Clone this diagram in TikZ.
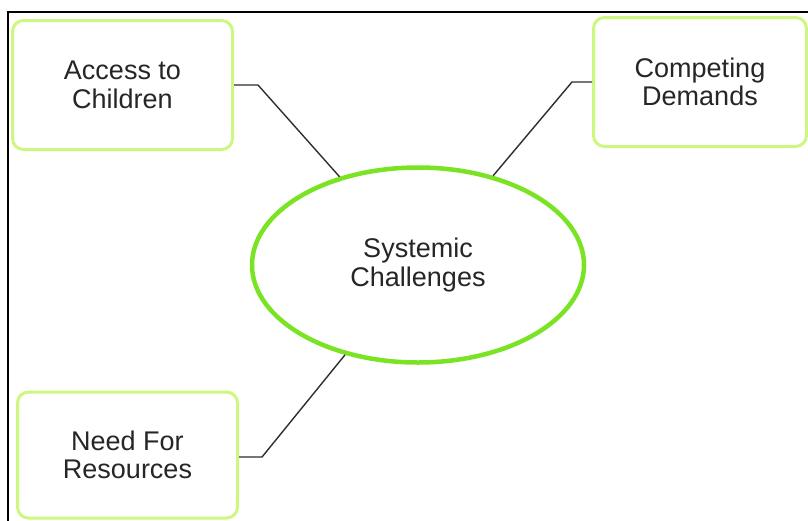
\documentclass[tikz,border=0pt]{standalone}
\usepackage{fontspec}
\setmainfont{Liberation Sans}
\usetikzlibrary{shapes.geometric}
\definecolor{boxgreen}{RGB}{204,248,128}
\definecolor{ringgreen}{RGB}{122,228,36}
\definecolor{wirecol}{RGB}{45,45,45}

\begin{document}
\begin{tikzpicture}[x=1pt, y=-1pt,
    every node/.style={align=center, font=\fontsize{27}{28.5}\selectfont, fill=white, text=black!85},
    topic/.style={draw=boxgreen, line width=3pt, rounded corners=11pt, inner sep=0pt},
    wire/.style={draw=wirecol, line width=1.4pt}]
      \useasboundingbox (0,0) rectangle (808,520);
      \draw[line width=1.5pt] (8,12) rectangle (840,560);
      \node[ellipse, draw=ringgreen, line width=4.5pt, minimum width=332pt, minimum height=195pt] (sys) at (418,265) {Systemic\\Challenges};
      \node[topic, minimum width=220pt, minimum height=129pt] (acc) at (122.5,85) {Access to\\Children};
      \node[topic, minimum width=213pt, minimum height=129pt] (cmp) at (700,82) {Competing\\Demands};
      \node[topic, minimum width=220pt, minimum height=126pt] (res) at (127.5,455) {Need For\\Resources};
      \coordinate (k1) at (258,85);
      \coordinate (k2) at (572,82);
      \coordinate (k3) at (262,457);
      \draw[wire] (acc.east |- k1) -- (k1) -- (sys);
      \draw[wire] (cmp.west |- k2) -- (k2) -- (sys);
      \draw[wire] (res.east |- k3) -- (k3) -- (sys);
    \end{tikzpicture}
\end{document}
